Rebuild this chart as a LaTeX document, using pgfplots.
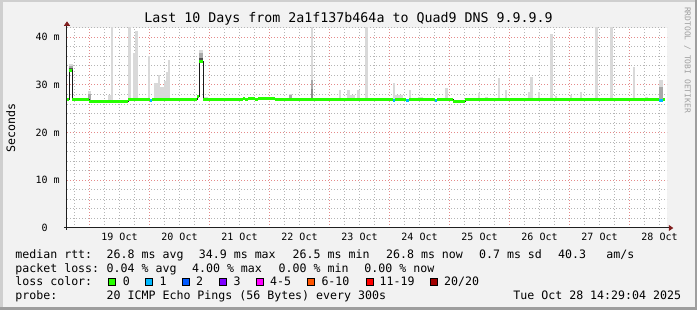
\documentclass[border=0pt]{standalone}
\usepackage{fontspec}
\setmainfont{DejaVu Sans Mono}
\usepackage{pgfplots}
\usepackage{pgfplotstable}
\pgfplotsset{compat=1.18}
\usetikzlibrary{arrows.meta}

\definecolor{bg}{HTML}{F2F2F2}
\definecolor{shadeA}{HTML}{CFCFCF}
\definecolor{shadeB}{HTML}{9E9E9E}
\definecolor{gridc}{HTML}{B5B5B5}
\definecolor{mgridc}{HTML}{E58A8A}
\definecolor{arrowred}{HTML}{801F1F}
\definecolor{axisc}{HTML}{1F1F1F}
\definecolor{smoke1}{HTML}{D9D9D9}
\definecolor{smoke2}{HTML}{A8A8A8}
\definecolor{smoke3}{HTML}{505050}
\definecolor{smoke4}{HTML}{8C8C8C}
\definecolor{medc}{HTML}{1A1A1A}
\definecolor{wmc}{HTML}{A0A0A0}
\definecolor{lc0}{HTML}{26FF00}
\definecolor{lc1}{HTML}{00B8FF}
\definecolor{lc2}{HTML}{0059FF}
\definecolor{lc3}{HTML}{7E00FF}
\definecolor{lc45}{HTML}{FF00FF}
\definecolor{lc610}{HTML}{FF5500}
\definecolor{lc1119}{HTML}{FF0000}
\definecolor{lc20}{HTML}{A10000}

\newcommand{\titlefont}{\fontsize{13.3}{15}\selectfont}
\newcommand{\legfont}{\fontsize{11.6}{13}\selectfont}
\newcommand{\axfont}{\fontsize{10}{12}\selectfont}
\newcommand{\wmfont}{\fontsize{8}{9}\selectfont}

% x = hours after 19 Oct 00:00, y = ms
% smoke, light layer: x  base  top
\pgfplotstableread{
x     b     t
-7.8  33.1  34.4
-7.2  33.1  34.4
-0.1  26.9  28.8
7.9   26.9  27.9
8.9   26.9  42.5
15.9  26.9  42.5
17.8  26.9  36.6
18.7  26.9  41.4
23.8  26.9  36.1
26.2  26.9  30.5
27.0  26.9  30.5
27.8  26.9  32.1
28.6  26.9  29.6
29.4  26.9  29.6
30.2  26.9  30.8
31.0  26.9  32.8
31.8  26.9  35.2
44.2  35.0  37.3
45.0  35.0  37.3
46.4  26.9  27.5
47.0  26.9  27.5
80.4  26.9  28.2
88.9  26.9  42.5
92.7  26.9  27.2
100.2 26.9  28.9
103.6 26.9  28.9
104.8 26.9  27.9
105.6 26.9  27.9
107.6 26.9  28.9
110.8 26.9  42.5
121.8 26.9  30.3
122.8 26.9  27.9
123.8 26.9  27.9
124.8 26.9  27.9
128.2 26.9  28.9
132.0 26.9  27.5
132.8 26.9  27.5
142.8 26.9  29.3
154.2 26.9  27.2
155.8 26.9  28.4
158.8 26.9  27.5
163.7 26.9  31.5
166.6 26.9  28.9
175.8 26.9  28.6
176.8 26.9  31.7
179.8 26.9  28.6
184.8 26.9  40.6
186.6 26.9  27.6
192.6 26.9  27.8
196.6 26.9  28.6
202.8 26.9  42.5
208.8 26.9  42.5
217.8 26.9  33.8
222.8 26.9  27.5
228.2 26.9  31.0
229.0 26.9  31.0
}\smokeA

% smoke, middle layer
\pgfplotstableread{
x     b     t
-7.8  33.1  34.0
-7.2  33.1  34.0
-0.1  26.9  28.1
44.2  35.0  36.6
45.0  35.0  36.6
80.4  26.9  27.8
88.9  26.9  31.0
228.2 26.9  29.6
229.0 26.9  29.6
}\smokeB

% smoke, dark layer
\pgfplotstableread{
x     b     t
-7.8  33.1  33.5
-7.2  33.1  33.5
44.2  35.0  35.7
45.0  35.0  35.7
}\smokeC

% smoke, darker part of the 22 Oct spike
\pgfplotstableread{
x     b     t
88.9  26.9  29.2
}\smokeD

% median rtt segments: start, length (h), median (ms), loss class
\pgfplotstableread{
x      len    m      c
-9.0   0.92   26.9   0
-8.08  1.2    33.0   0
-6.88  6.68   26.95  0
-0.2   15.6   26.6   0
15.4   8.6    26.85  0
24.0   1.0    26.75  1
25.0   8.4    26.85  0
33.4   6.8    26.95  0
40.2   2.8    26.85  0
43.0   0.8    27.5   0
43.8   1.6    35.0   0
45.4   15.9   26.85  0
61.3   0.9    27.05  0
62.2   1.2    26.85  0
63.4   2.8    27.05  0
66.2   1.2    26.85  0
67.4   6.8    27.05  0
74.2   20.0   26.85  0
94.2   3.0    27.0   0
97.2   24.3   26.85  0
121.5  0.7    26.8   1
122.2  4.3    26.85  0
126.5  1.3    26.8   1
127.8  10.4   26.85  0
138.2  0.9    26.8   1
139.1  6.4    26.85  0
145.5  4.7    26.6   0
150.2  8.0    26.85  0
158.2  2.0    27.0   0
160.2  20.0   26.85  0
180.2  6.0    27.0   0
186.2  14.0   26.85  0
200.2  6.0    27.0   0
206.2  21.7   26.85  0
227.9  1.4    26.8   1
229.3  0.9    26.85  0
230.2  0.0    26.85  0
}\median

\begin{document}
\begin{tikzpicture}
\useasboundingbox (0pt,0pt) rectangle (697pt,310pt);
\fill[bg] (0pt,0pt) rectangle (697pt,310pt);
\fill[shadeA] (0pt,307.5pt) rectangle (697pt,310pt);
\fill[shadeA] (0pt,0pt) rectangle (2.5pt,310pt);
\fill[shadeB] (0pt,0pt) rectangle (697pt,2.5pt);
\fill[shadeB] (694.5pt,0pt) rectangle (697pt,310pt);

\begin{axis}[
  at={(67pt,82pt)}, anchor=south west,
  scale only axis, width=600pt, height=200.3pt,
  xmin=-9, xmax=231, ymin=0, ymax=42,
  axis background/.style={fill=white},
  axis lines=left,
  axis line style={draw=axisc, line width=1pt},
  x axis line style={-{Triangle[length=4.5pt,width=6pt,color=arrowred,fill=arrowred]}, shorten >=-6.3pt, shorten <=-3pt},
  y axis line style={-{Triangle[length=4.5pt,width=6pt,color=arrowred,fill=arrowred]}, shorten >=-6.4pt, shorten <=-2pt},
  xtick={0,24,...,216}, xticklabels={},
  extra x ticks={12,36,...,228},
  extra x tick labels={19 Oct,20 Oct,21 Oct,22 Oct,23 Oct,24 Oct,25 Oct,26 Oct,27 Oct,28 Oct},
  extra x tick style={grid=none},
  minor xtick={-6,0,...,228},
  ytick={0,10,20,30,40},
  yticklabels={0\phantom{\ m},10 m,20 m,30 m,40 m},
  minor ytick={2,4,...,42},
  grid=both,
  major grid style={draw=mgridc, dash pattern=on 1pt off 2pt, line width=1pt},
  minor grid style={draw=gridc, dash pattern=on 1pt off 2pt, line width=1pt},
  major tick length=0pt, minor tick length=0pt,
  tick label style={font=\axfont, text=black},
  xticklabel style={anchor=base, yshift=-12.7pt, inner sep=0pt},
  yticklabel style={anchor=east, xshift=-7.2pt, inner sep=0pt},
  clip mode=individual,
]
\addplot[draw=smoke1, line width=2.5pt, quiver={u=0, v=\thisrow{t}-\thisrow{b}}] table[x=x, y=b] {\smokeA};
\addplot[draw=smoke2, line width=2.5pt, quiver={u=0, v=\thisrow{t}-\thisrow{b}}] table[x=x, y=b] {\smokeB};
\addplot[draw=smoke3, line width=2.5pt, quiver={u=0, v=\thisrow{t}-\thisrow{b}}] table[x=x, y=b] {\smokeC};
\addplot[draw=smoke4, line width=2.5pt, quiver={u=0, v=\thisrow{t}-\thisrow{b}}] table[x=x, y=b] {\smokeD};
\addplot[draw=medc, line width=1pt, const plot mark left, mark=none] table[x=x, y=m] {\median};
\addplot[draw=lc0, line width=3pt, quiver={u=\thisrow{len}, v=0}, restrict expr to domain={\thisrow{c}}{0:0}] table[x=x, y=m] {\median};
\addplot[draw=lc1, line width=3pt, quiver={u=\thisrow{len}, v=0}, restrict expr to domain={\thisrow{c}}{1:1}] table[x=x, y=m] {\median};
\end{axis}

% title, unit, watermark
\node[anchor=base, inner sep=0pt, font=\titlefont] at (348.5pt,287.3pt) {Last 10 Days from 2a1f137b464a to Quad9 DNS 9.9.9.9};
\node[rotate=90, inner sep=0pt, font=\legfont] at (10.9pt,181.7pt) {Seconds};
\node[rotate=-90, inner sep=0pt, font=\wmfont, text=wmc] at (687.5pt,250pt) {RRDTOOL / TOBI OETIKER};

% legend
\begin{scope}[every node/.style={anchor=base west, inner sep=0pt, font=\legfont}]
\node at (15.2pt,51.8pt) {median rtt:};
\node at (106.5pt,51.8pt) {26.8 ms avg};
\node at (198.7pt,51.8pt) {34.9 ms max};
\node at (292.5pt,51.8pt) {26.5 ms min};
\node at (385.9pt,51.8pt) {26.8 ms now};
\node at (478.9pt,51.8pt) {0.7 ms sd};
\node at (557.9pt,51.8pt) {40.3};
\node at (606.2pt,51.8pt) {am/s};

\node at (15.2pt,37.9pt) {packet loss:};
\node at (106.5pt,37.9pt) {0.04 \% avg};
\node at (191.9pt,37.9pt) {4.00 \% max};
\node at (278.5pt,37.9pt) {0.00 \% min};
\node at (364.2pt,37.9pt) {0.00 \% now};

\node at (15.2pt,24.0pt) {loss color:};
\node at (122.7pt,24.0pt) {0};
\node at (159.3pt,24.0pt) {1};
\node at (196.0pt,24.0pt) {2};
\node at (233.3pt,24.0pt) {3};
\node at (270.0pt,24.0pt) {4-5};
\node at (321.3pt,24.0pt) {6-10};
\node at (379.5pt,24.0pt) {11-19};
\node at (444.0pt,24.0pt) {20/20};

\node at (15.2pt,10.1pt) {probe:};
\node at (106.5pt,10.1pt) {20 ICMP Echo Pings (56 Bytes) every 300s};
\node at (513.2pt,10.1pt) {Tue Oct 28 14:29:04 2025};
\end{scope}

\foreach \bx/\bc in {108.7/lc0,145.3/lc1,182.0/lc2,219.3/lc3,256.0/lc45,307.3/lc610,366.0/lc1119,430.0/lc20}{
  \filldraw[fill=\bc, draw=black, line width=0.8pt] (\bx pt,24.2pt) rectangle ++(7pt,7pt);
}
\end{tikzpicture}
\end{document}
